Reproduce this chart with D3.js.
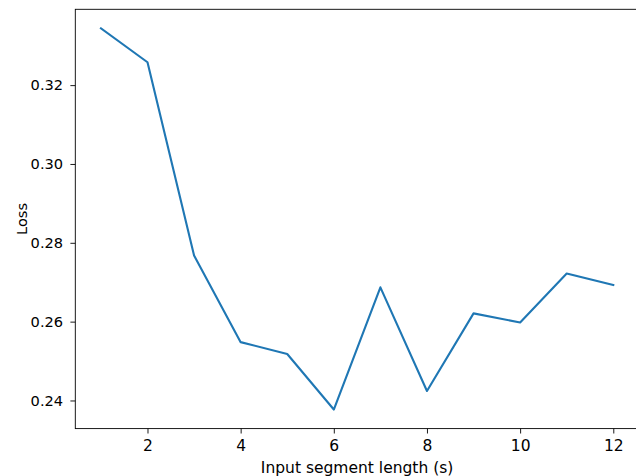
<!DOCTYPE html>
<html>
<head>
<meta charset="utf-8">
<script src="https://cdn.jsdelivr.net/npm/d3@7"></script>
<style>
  body { margin: 0; background: #fff; }
  svg text { font-family: "DejaVu Sans", sans-serif; fill: #000; }
</style>
</head>
<body>
<div id="chart"></div>
<script>
// dữ liệu
const segLengths = [1, 2, 3, 4, 5, 6, 7, 8, 9, 10, 11, 12];
const lossValues = [0.3344, 0.3258, 0.2768, 0.2548, 0.2518, 0.2377, 0.2687, 0.2424, 0.2621, 0.2598, 0.2722, 0.2693];
const xTicks = [2, 4, 6, 8, 10, 12];
const yTicks = [0.24, 0.26, 0.28, 0.30, 0.32];
const xLabel = "Input segment length (s)";
const yLabel = "Loss";

const W = 636, H = 476;
const plot = { left: 75.3, right: 638.9, top: 9.3, bottom: 428.6 };

const svg = d3.select("#chart").append("svg")
    .attr("width", W)
    .attr("height", H);

// lề 5% như matplotlib
const xMin = d3.min(segLengths), xMax = d3.max(segLengths);
const yMin = d3.min(lossValues), yMax = d3.max(lossValues);
const xPad = (xMax - xMin) * 0.05, yPad = (yMax - yMin) * 0.05;

const x = d3.scaleLinear().domain([xMin - xPad, xMax + xPad]).range([plot.left, plot.right]);
const y = d3.scaleLinear().domain([yMin - yPad, yMax + yPad]).range([plot.bottom, plot.top]);

// trục x
const xAxis = svg.append("g")
    .attr("transform", `translate(0,${plot.bottom})`)
    .call(d3.axisBottom(x).tickValues(xTicks).tickFormat(d3.format("d")).tickSize(4.9).tickPadding(6.5));

// trục y
const yAxis = svg.append("g")
    .attr("transform", `translate(${plot.left},0)`)
    .call(d3.axisLeft(y).tickValues(yTicks).tickFormat(d3.format(".2f")).tickSize(4.9).tickPadding(7.3));

[xAxis, yAxis].forEach(g => {
    g.select(".domain").remove();
    g.selectAll(".tick line").attr("stroke", "#000").attr("stroke-width", 0.9);
    g.selectAll(".tick text").attr("fill", "#000");
});
xAxis.selectAll(".tick text").style("font-size", "15.5px");
yAxis.selectAll(".tick text").style("font-size", "14.6px");

// khung
svg.append("rect")
    .attr("x", plot.left)
    .attr("y", plot.top)
    .attr("width", plot.right - plot.left)
    .attr("height", plot.bottom - plot.top)
    .attr("fill", "none")
    .attr("stroke", "#000")
    .attr("stroke-width", 0.9);

// đường
const line = d3.line()
    .x((d, i) => x(segLengths[i]))
    .y(d => y(d));

svg.append("path")
    .datum(lossValues)
    .attr("fill", "none")
    .attr("stroke", "#1f77b4")
    .attr("stroke-width", 2.1)
    .attr("stroke-linejoin", "round")
    .attr("stroke-linecap", "square")
    .attr("d", line);

// nhãn trục
svg.append("text")
    .attr("x", (plot.left + plot.right) / 2)
    .attr("y", 472.5)
    .attr("text-anchor", "middle")
    .style("font-size", "15.5px")
    .text(xLabel);

svg.append("text")
    .attr("transform", `translate(27,${(plot.top + plot.bottom) / 2}) rotate(-90)`)
    .attr("text-anchor", "middle")
    .style("font-size", "14.6px")
    .text(yLabel);
</script>
</body>
</html>
